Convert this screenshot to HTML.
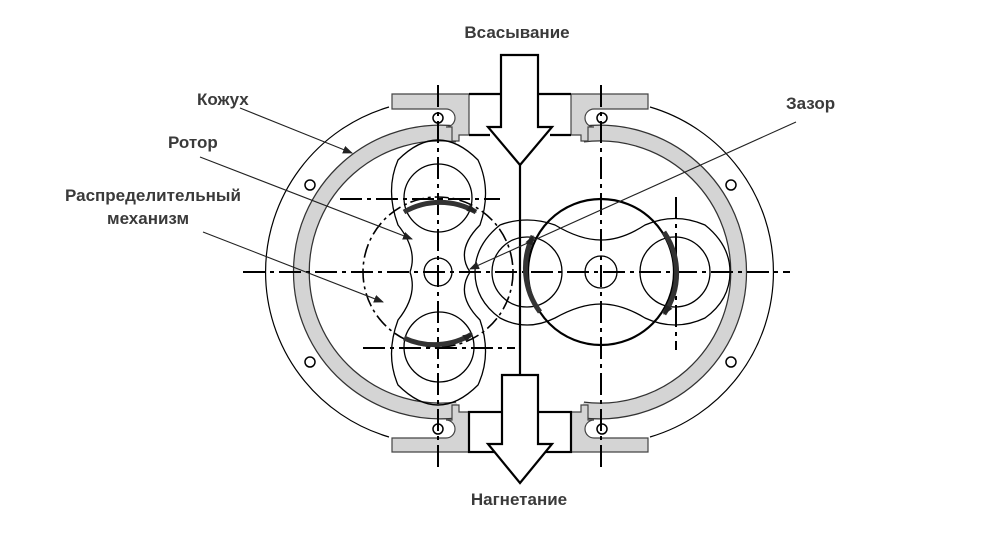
<!DOCTYPE html>
<html><head><meta charset="utf-8"><style>
html,body{margin:0;padding:0;background:#fff;width:1000px;height:534px;overflow:hidden}
svg{display:block}
text{font-family:"Liberation Sans",sans-serif;font-weight:bold;fill:#3a3a3a;font-size:17px}
</style></head><body>
<svg width="1000" height="534" viewBox="0 0 1000 534" xmlns="http://www.w3.org/2000/svg">
<defs>
<marker id="ah" markerWidth="10" markerHeight="8" refX="9" refY="4" orient="auto" markerUnits="userSpaceOnUse"><path d="M0,0 L10,4 L0,8 z" fill="#222"/></marker>
</defs>
<!-- outer thin circles -->
<path d="M389,107 A172,172 0 0 0 389,437" fill="none" stroke="#000" stroke-width="1.2"/>
<path d="M650,107 A172,172 0 0 1 650,437" fill="none" stroke="#000" stroke-width="1.2"/>
<!-- casing band -->
<g fill="none">
<path d="M457,134 A139,139 0 1 0 457,410" stroke="#333" stroke-width="17"/>
<path d="M457,134 A139,139 0 1 0 457,410" stroke="#d4d4d4" stroke-width="14.5"/>
<path d="M583,134 A139,139 0 1 1 583,410" stroke="#333" stroke-width="17"/>
<path d="M583,134 A139,139 0 1 1 583,410" stroke="#d4d4d4" stroke-width="14.5"/>
</g>
<!-- flanges -->
<g fill="#d4d4d4" stroke="#444" stroke-width="1.2">
<path d="M392,94 H469 V135 H459 V141 H452 V127 H446 A9,9 0 0 0 446,109 H392 Z"/>
<path d="M648,94 H571 V135 H581 V141 H588 V127 H594 A9,9 0 0 1 594,109 H648 Z"/>
<path d="M392,452 H469 V412 H459 V405 H452 V420 H446 A9,9 0 0 1 446,438 H392 Z"/>
<path d="M648,452 H571 V412 H581 V405 H588 V420 H594 A9,9 0 0 0 594,438 H648 Z"/>
</g>
<g fill="none" stroke="#000" stroke-width="1.5">
<circle cx="438" cy="118" r="5"/><circle cx="602" cy="118" r="5"/>
<circle cx="438" cy="429" r="5"/><circle cx="602" cy="429" r="5"/>
<circle cx="310" cy="185" r="5"/><circle cx="310" cy="362" r="5"/>
<circle cx="731" cy="185" r="5"/><circle cx="731" cy="362" r="5"/>
</g>
<!-- centerlines -->
<g stroke="#000" stroke-width="2" stroke-dasharray="22,5,4,5" fill="none">
<line x1="243" y1="272" x2="790" y2="272"/>
<line x1="438" y1="85" x2="438" y2="470"/>
<line x1="601" y1="85" x2="601" y2="470"/>
<line x1="340" y1="199" x2="500" y2="199"/>
<line x1="363" y1="348" x2="515" y2="348"/>
<line x1="676" y1="197" x2="676" y2="350"/>
</g>
<!-- left rotor -->
<g fill="none" stroke="#000" stroke-width="1.3">
<circle cx="438" cy="198" r="34"/>
<circle cx="439" cy="347" r="35"/>
<circle cx="438" cy="272" r="14"/>
<path d="M398,160 Q438,120 478,160 Q492,190 480,225 Q455,250 470,272 Q455,295 480,320 Q492,355 478,385 Q438,425 398,385 Q385,355 398,320 Q418,295 410,272 Q418,250 398,225 Q385,190 398,160 Z"/>
<circle cx="438" cy="272" r="75" stroke-dasharray="14,4,3,4" stroke-width="1.6"/>
<!-- right rotor -->
<circle cx="527" cy="272" r="35"/>
<circle cx="675" cy="272" r="35"/>
<circle cx="601" cy="272" r="16"/>
<path d="M500,225 Q527,215 555,225 Q580,240 601,240 Q622,240 645,225 Q675,212 705,225 Q730,245 730,272 Q730,300 705,318 Q675,332 645,318 Q622,304 601,304 Q580,304 555,318 Q527,332 500,318 Q475,300 475,272 Q475,245 500,225 Z"/>
<circle cx="601" cy="272" r="73" stroke-width="2.2"/>
</g>
<!-- bold rotation arcs -->
<g fill="none" stroke="#333" stroke-width="5">
<path d="M404,212 A72,72 0 0 1 476,212" marker-end="url(#ah)"/>
<path d="M404,338 A72,72 0 0 0 472,334" marker-end="url(#ah)"/>
<path d="M540,312 A73,73 0 0 1 533,236" marker-end="url(#ah)"/>
<path d="M664,232 A73,73 0 0 1 664,314" marker-end="url(#ah)"/>
</g>
<!-- center divider and pipes -->
<g stroke="#000" stroke-width="2.2" fill="#fff">
<line x1="520" y1="160" x2="520" y2="378"/>
<line x1="469" y1="94" x2="571" y2="94"/>
<line x1="469" y1="135" x2="490" y2="135"/>
<line x1="550" y1="135" x2="571" y2="135"/>
<path d="M501,55 L538,55 L538,127 L552,127 L520,165 L488,127 L501,127 Z"/>
<rect x="469" y="412" width="102" height="40"/>
<path d="M502,375 L538,375 L538,444 L552,444 L520,483 L488,444 L502,444 Z"/>
</g>
<!-- leader lines -->
<g stroke="#222" stroke-width="1.1" fill="none" marker-end="url(#ah)">
<line x1="240" y1="108" x2="352" y2="153"/>
<line x1="200" y1="157" x2="412" y2="239"/>
<line x1="203" y1="232" x2="383" y2="302"/>
<line x1="796" y1="122" x2="470" y2="269"/>
</g>
<!-- labels -->
<text x="517" y="38" text-anchor="middle">Всасывание</text>
<text x="519" y="505" text-anchor="middle">Нагнетание</text>
<text x="197" y="105">Кожух</text>
<text x="168" y="148">Ротор</text>
<text x="65" y="201">Распределительный</text>
<text x="107" y="224">механизм</text>
<text x="786" y="109">Зазор</text>
</svg>
</body></html>
